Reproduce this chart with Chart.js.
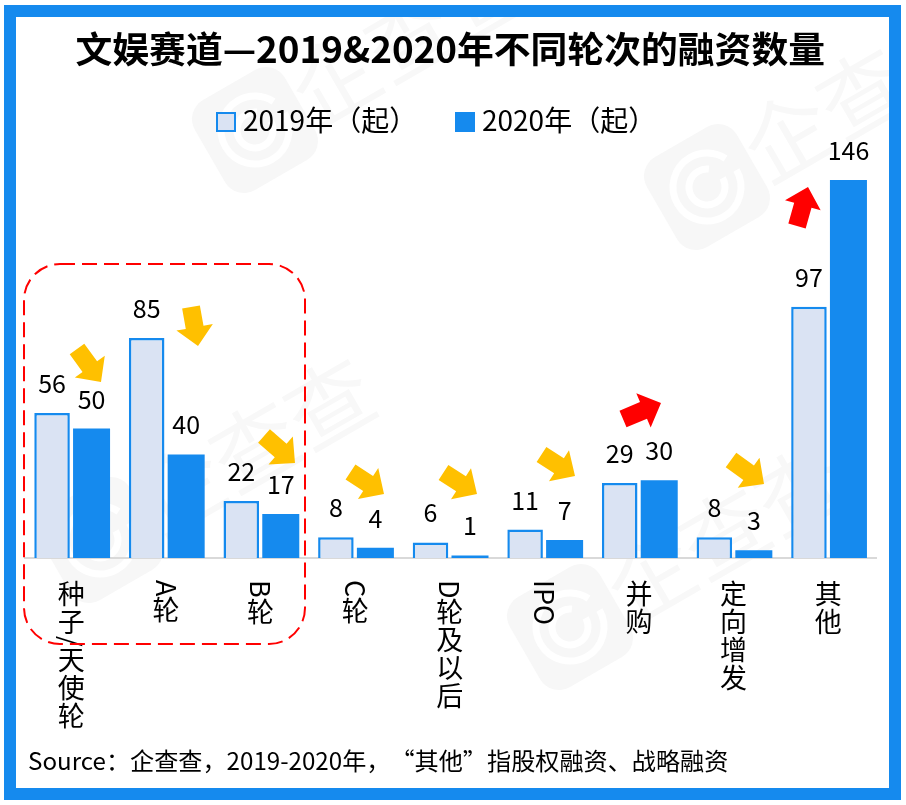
<!DOCTYPE html>
<html><head><meta charset="utf-8">
<style>html,body{margin:0;padding:0;background:#fff}canvas{display:block}</style>
<script src="https://cdn.jsdelivr.net/npm/chart.js@4"></script>
</head><body><canvas id="c" width="906" height="805"></canvas>
<script>
const chartTitle = '文娱赛道—2019&2020年不同轮次的融资数量';
const categories = ['种子/天使轮','A轮','B轮','C轮','D轮及以后','IPO','并购','定向增发','其他'];
const series2019 = [56,85,22,8,6,11,29,8,97];
const series2020 = [50,40,17,4,1,7,30,3,146];
const seriesNames = ['2019年（起）','2020年（起）'];
const sourceNote = 'Source：企查查，2019-2020年，“其他”指股权融资、战略融资';
const watermarkText = '企查查';
const BLUE = '#158aee', PALE = '#dae3f3', AMBER = '#ffc000', RED = '#ff0000', FONT = '"Noto Sans CJK SC","Noto Sans",sans-serif';
// annotation arrows: tail x,y, tip x,y, colour
const arrows = [
 [77,349,101,382,AMBER],[191,307,198,346,AMBER],[264,436,295,463,AMBER],
 [350.5,472,384,494,AMBER],[443.5,472.5,477,494,AMBER],[541.5,454.5,575,476,AMBER],
 [731,460,764,484,AMBER],[623,419,661,403,RED],[797,226,808,187,RED]];
// watermark anchors (logo centre)
const marks = [[707,187],[255,130],[100,540],[570,627]];

function arrow(ctx,x0,y0,x1,y1,col){
  const L=Math.hypot(x1-x0,y1-y0),a=Math.atan2(y1-y0,x1-x0),s=9,h=18.5,hl=19;
  ctx.save();ctx.translate(x0,y0);ctx.rotate(a);ctx.fillStyle=col;ctx.beginPath();
  ctx.moveTo(0,-s);ctx.lineTo(L-hl,-s);ctx.lineTo(L-hl,-h);ctx.lineTo(L,0);ctx.lineTo(L-hl,h);ctx.lineTo(L-hl,s);ctx.lineTo(0,s);ctx.closePath();ctx.fill();ctx.restore();
}
function watermark(ctx,x,y){
  ctx.save();ctx.translate(x,y);ctx.rotate(-Math.PI/6);
  ctx.fillStyle='#f7f7f7';ctx.beginPath();ctx.roundRect(-52,-52,104,104,22);ctx.fill();
  ctx.strokeStyle='#fff';ctx.lineWidth=7;
  ctx.beginPath();ctx.arc(0,0,34,0,Math.PI*1.85);ctx.stroke();
  ctx.beginPath();ctx.arc(0,0,18,0,Math.PI*1.7);ctx.stroke();
  ctx.fillStyle='#f8f8f8';ctx.font='86px '+FONT;ctx.textAlign='left';ctx.textBaseline='middle';
  ctx.fillText(watermarkText,52,-4);
  ctx.restore();
}
const decor = {
  id:'decor',
  beforeDraw(chart){
    const ctx=chart.ctx;ctx.save();
    ctx.fillStyle='#fff';ctx.fillRect(0,0,906,805);
    ctx.beginPath();ctx.rect(16,17,873,771);ctx.clip();
    marks.forEach(m=>watermark(ctx,m[0],m[1]));
    ctx.restore();
    ctx.save();ctx.strokeStyle=BLUE;ctx.lineWidth=12;ctx.strokeRect(10,11,885,783);ctx.restore();
  },
  afterDraw(chart){
    const ctx=chart.ctx,xs=chart.scales.x;ctx.save();
    // value labels
    ctx.fillStyle='#000';ctx.font='25px '+FONT;ctx.textAlign='center';ctx.textBaseline='alphabetic';
    chart.data.datasets.forEach((d,i)=>{
      chart.getDatasetMeta(i).data.forEach((b,j)=>{ctx.fillText(String(d.data[j]),b.x,b.y-20);});
    });
    // vertical category labels
    ctx.font='27px '+FONT;
    categories.forEach((lab,i)=>{
      const cx=xs.getPixelForTick(i)-0.5;let y=580;
      for(const ch of lab){
        const latin=ch.charCodeAt(0)<256;
        if(latin){
          const w=ctx.measureText(ch).width;
          ctx.save();ctx.translate(cx,y+w/2);ctx.rotate(Math.PI/2);ctx.textBaseline='middle';ctx.fillText(ch,0,0);ctx.restore();
          y+=w;
        }else{
          ctx.textBaseline='middle';ctx.fillText(ch,cx,y+13.5);y+=28;
        }
      }
    });
    // legend
    ctx.textAlign='left';ctx.textBaseline='middle';ctx.font='28px '+FONT;
    const lx=[[216,243],[455,482]];
    seriesNames.forEach((n,i)=>{
      const d=chart.data.datasets[i];
      ctx.fillStyle=d.backgroundColor;ctx.fillRect(lx[i][0],112,20,20);
      if(i===0){ctx.strokeStyle=BLUE;ctx.lineWidth=2;ctx.strokeRect(lx[i][0]+1,113,18,18);}
      ctx.fillStyle='#000';ctx.fillText(n,lx[i][1],120);
    });
    // source note
    ctx.font='24.15px '+FONT;ctx.fillText(sourceNote,28,761);
    // dashed box
    ctx.strokeStyle=RED;ctx.lineWidth=2;ctx.setLineDash([15,7]);
    ctx.beginPath();ctx.roundRect(24,264,281,380,36);ctx.stroke();ctx.setLineDash([]);
    arrows.forEach(a=>arrow(ctx,a[0],a[1],a[2],a[3],a[4]));
    ctx.restore();
  }
};
new Chart(document.getElementById('c'),{
  type:'bar',
  data:{labels:categories,datasets:[
    {label:seriesNames[0],data:series2019,backgroundColor:PALE,borderColor:BLUE,borderWidth:2.5,barPercentage:.9},
    {label:seriesNames[1],data:series2020,backgroundColor:BLUE,barPercentage:.937}
  ]},
  plugins:[decor],
  options:{
    responsive:false,animation:false,devicePixelRatio:1,
    categoryPercentage:.835,
    layout:{padding:{left:24.5,right:30,top:20,bottom:247}},
    plugins:{
      legend:{display:false},tooltip:{enabled:false},
      title:{display:true,text:chartTitle,color:'#000',font:{family:FONT,size:36.8,weight:'bold',lineHeight:1.2},padding:{top:6.5,bottom:99}}
    },
    scales:{
      x:{grid:{display:false},border:{display:true,color:'#d9d9d9',width:2},ticks:{display:false},afterFit(s){s.height=0;}},
      y:{display:false,min:0,max:150}
    }
  }
});
</script></body></html>
